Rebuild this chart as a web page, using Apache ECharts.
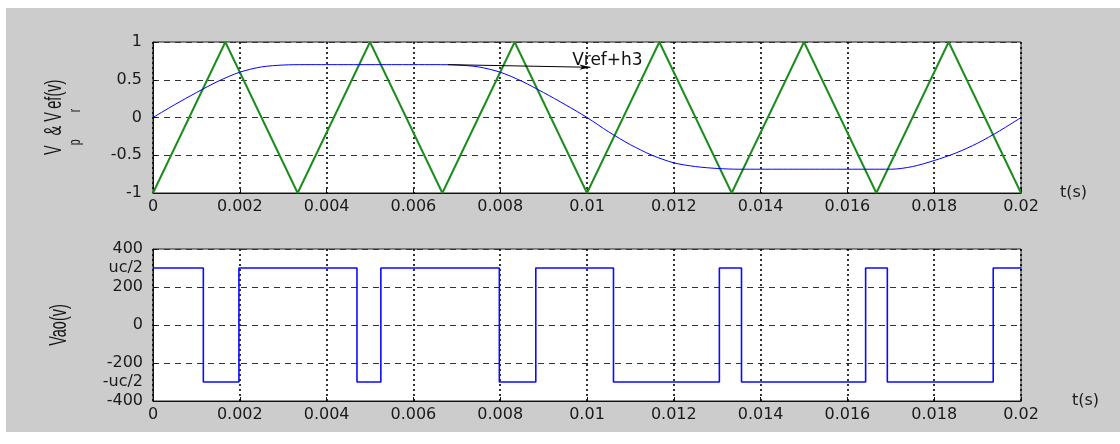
<!DOCTYPE html>
<html><head><meta charset="utf-8">
<script src="https://cdn.jsdelivr.net/npm/echarts@6/dist/echarts.min.js"></script>
<style>html,body{margin:0;padding:0;background:#fff}#c{width:1120px;height:444px}</style>
</head><body><div id="c"></div>
<script>
// ---- data ----
const carrierTimes  = [0, 0.001667, 0.003333, 0.005, 0.006667, 0.008333, 0.01, 0.011667, 0.013333, 0.015, 0.016667, 0.018333, 0.02];
const carrierValues = [-1, 1, -1, 1, -1, 1, -1, 1, -1, 1, -1, 1, -1];

const refTimes = [0, 0.0005, 0.001, 0.0015, 0.002, 0.0025, 0.003, 0.0035, 0.004, 0.0045,
                  0.005, 0.0055, 0.006, 0.0065, 0.007, 0.0075, 0.008, 0.0085, 0.009, 0.0095,
                  0.01, 0.0105, 0.011, 0.0115, 0.012, 0.0125, 0.013, 0.0135, 0.014, 0.0145,
                  0.015, 0.0155, 0.016, 0.0165, 0.017, 0.0175, 0.018, 0.0185, 0.019, 0.0195, 0.02];
const refValues = [0, 0.17, 0.33, 0.48, 0.60, 0.67, 0.695, 0.70, 0.70, 0.70,
                   0.70, 0.70, 0.70, 0.70, 0.695, 0.67, 0.60, 0.48, 0.33, 0.17,
                   0, -0.19, -0.36, -0.50, -0.60, -0.65, -0.675, -0.685, -0.685, -0.685,
                   -0.685, -0.685, -0.685, -0.685, -0.685, -0.65, -0.57, -0.47, -0.34, -0.18, 0];

const vaoTimes  = [0, 0.00116, 0.00198, 0.0047, 0.00525, 0.00798, 0.00882, 0.01061, 0.01305, 0.01356, 0.01642, 0.01692, 0.01936, 0.02];
const vaoLevels = [300, -300, 300, -300, 300, -300, 300, -300, 300, -300, 300, -300, 300, 300];

const vaoTickValues = [400, 300, 200, 0, -200, -300, -400];
const vaoTickLabels = ['400', 'uc/2', '200', '0', '-200', '-uc/2', '-400'];

const annotationText = 'Vref+h3';

// ---- chart ----
const zip = (a, b) => a.map((v, i) => [v, b[i]]);
const TICK_FONT = { fontFamily: 'DejaVu Sans', fontSize: 16, color: '#1a1a1a' };
const xFmt = v => String(+(+v).toFixed(3));

function xAxisCfg(gridIndex, namePad) {
  return {
    type: 'value', gridIndex, min: 0, max: 0.02, interval: 0.002,
    name: 't(s)', nameLocation: 'end', nameGap: 0,
    nameTextStyle: { fontFamily: 'DejaVu Sans', fontSize: 16, color: '#1a1a1a', align: 'left', verticalAlign: 'middle', padding: namePad },
    axisLine: { show: true, onZero: false, lineStyle: { color: '#111', width: 1 } },
    axisTick: { show: true, inside: true, length: 4, lineStyle: { color: '#111' } },
    axisLabel: Object.assign({ margin: 6, formatter: xFmt }, TICK_FONT),
    splitLine: { show: true, lineStyle: { color: '#000', width: 1.6, type: [2, 3] } }
  };
}

const chart = echarts.init(document.getElementById('c'), null, { renderer: 'canvas' });

function txt(x, y, text, size) {
  return { type: 'text', x, y, style: { text, font: size + 'px "Liberation Sans"', fill: '#151515', align: 'left', verticalAlign: 'middle' } };
}

chart.setOption({
  animation: false,
  backgroundColor: '#ffffff',
  graphic: [
    { type: 'rect', shape: { x: 6, y: 8, width: 1114, height: 424 }, style: { fill: '#cccccc' }, z: -100, silent: true },
    { type: 'group', x: 55, y: 117.5, rotation: Math.PI / 2, scaleX: 1, scaleY: 1.6, silent: true, children: [
        txt(-37.5, 0, 'V', 14.5),
        txt(-27.8, 13, 'p', 10.5),
        txt(-22.0, 0, ' & V', 14.5),
        txt(5.3, 13, 'r', 10.5),
        txt(8.8, 0, 'ef(v)', 14.5)
    ]},
    { type: 'group', x: 60, y: 325, rotation: Math.PI / 2, scaleX: 1, scaleY: 1.6, silent: true, children: [
        { type: 'text', x: 0, y: 0, style: { text: 'Vao(v)', font: '14.5px "Liberation Sans"', fill: '#151515', align: 'center', verticalAlign: 'middle' } }
    ]}
  ],
  grid: [
    { left: 153, width: 868, top: 42, height: 151, show: true, backgroundColor: '#ffffff', borderColor: '#222', borderWidth: 1 },
    { left: 153, width: 868, top: 249, height: 152, show: true, backgroundColor: '#ffffff', borderColor: '#222', borderWidth: 1 }
  ],
  xAxis: [
    xAxisCfg(0, [0, 0, 12, 39]),
    xAxisCfg(1, [0, 0, 6, 51])
  ],
  yAxis: [
    { type: 'value', gridIndex: 0, min: -1, max: 1, interval: 0.5,
      axisLine: { show: true, onZero: false, lineStyle: { color: '#111' } },
      axisTick: { show: true, inside: true, length: 4, lineStyle: { color: '#111' } },
      axisLabel: Object.assign({ margin: 11 }, TICK_FONT),
      splitLine: { show: true, lineStyle: { color: '#333', width: 1, type: [6, 5] } } },
    { type: 'value', gridIndex: 1, min: -400, max: 400, interval: 100,
      axisLine: { show: true, onZero: false, lineStyle: { color: '#111' } },
      axisTick: { show: false },
      axisLabel: Object.assign({ margin: 10, formatter: v => { const i = vaoTickValues.indexOf(v); return i >= 0 ? vaoTickLabels[i] : ''; } }, TICK_FONT),
      splitLine: { show: false } },
    { type: 'value', gridIndex: 1, min: -400, max: 400, interval: 200, position: 'left',
      axisLine: { show: false, onZero: false }, axisLabel: { show: false },
      axisTick: { show: true, inside: true, length: 4, lineStyle: { color: '#111' } },
      splitLine: { show: true, lineStyle: { color: '#333', width: 1, type: [6, 5] } } }
  ],
  series: [
    { type: 'line', xAxisIndex: 0, yAxisIndex: 0, data: zip(carrierTimes, carrierValues),
      symbol: 'none', lineStyle: { color: '#1c8c1c', width: 2 }, z: 3 },
    { type: 'line', xAxisIndex: 0, yAxisIndex: 0, data: zip(refTimes, refValues),
      symbol: 'none', smooth: 0.3, lineStyle: { color: '#0000ff', width: 1 }, z: 4,
      markLine: { silent: true, symbol: ['none', 'arrow'], symbolSize: [4, 11],
        lineStyle: { color: '#000', width: 1, type: 'solid' }, label: { show: false },
        data: [[{ coord: [0.0068, 0.70] }, { coord: [0.01008, 0.665] }]] },
      markPoint: { silent: true, symbol: 'circle', symbolSize: 1, itemStyle: { color: 'rgba(0,0,0,0)' },
        label: { show: true, position: 'inside', formatter: annotationText, fontFamily: 'DejaVu Sans', fontSize: 17, color: '#111' },
        data: [{ coord: [0.01047, 0.755] }] } },
    { type: 'line', xAxisIndex: 1, yAxisIndex: 1, data: zip(vaoTimes, vaoLevels), step: 'end',
      symbol: 'none', lineStyle: { color: '#0a0aff', width: 1.6 }, z: 3 }
  ]
});
</script></body></html>
